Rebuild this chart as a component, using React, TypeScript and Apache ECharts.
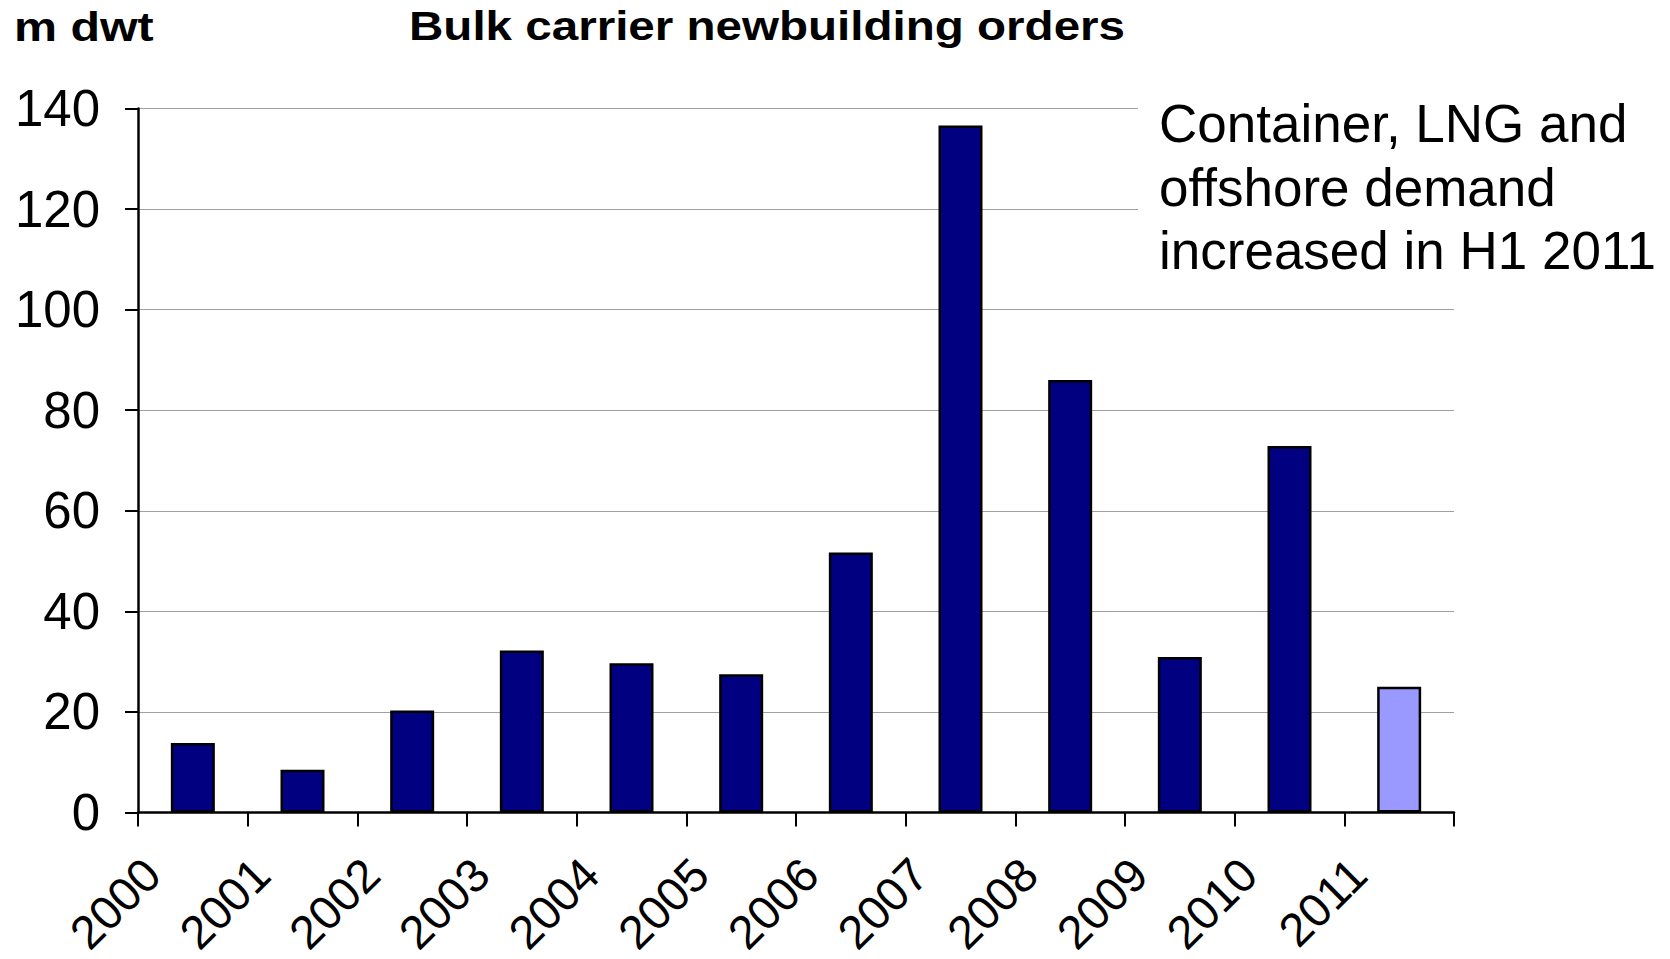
import React, { useEffect, useRef } from "react";
import * as echarts from "echarts";

const years = ["2000", "2001", "2002", "2003", "2004", "2005", "2006", "2007", "2008", "2009", "2010", "2011"];
const orders = [13.8, 8.5, 20.3, 32.2, 29.7, 27.5, 51.7, 136.6, 86.0, 30.9, 72.9, 25.0];
const highlightYear = "2011";
const yTicks = { min: 0, max: 140, interval: 20 };
const titleText = "Bulk carrier newbuilding orders";
const unitText = "m dwt";
const noteLines = ["Container, LNG and", "offshore demand", "increased in H1 2011"];

const NAVY = "#000080";
const LIGHT = "#9999FF";
const FONT = "'Liberation Sans', Arial, sans-serif";

export default function App() {
  const ref = useRef<HTMLDivElement>(null);

  useEffect(() => {
    document.body.style.margin = "0";
    if (!ref.current) return;
    const chart = echarts.init(ref.current, null, { renderer: "svg" });

    const labelAxisData = [...years, ""];

    chart.setOption({
      animation: false,
      backgroundColor: "#ffffff",
      textStyle: { fontFamily: FONT },
      grid: [
        { left: 138, right: 216, top: 108.5, bottom: 146.5, containLabel: false },
        { left: 152, right: 202, top: 108.5, bottom: 146.5, containLabel: false },
      ],
      xAxis: [
        {
          type: "category",
          gridIndex: 0,
          data: years,
          boundaryGap: true,
          axisLine: { show: true, lineStyle: { color: "#000", width: 2.5 } },
          axisTick: { show: true, length: 14, lineStyle: { color: "#000", width: 2 } },
          axisLabel: { show: false },
          splitLine: { show: false },
        },
        {
          type: "category",
          gridIndex: 1,
          data: labelAxisData,
          boundaryGap: false,
          axisLine: { show: false },
          axisTick: { show: false },
          splitLine: { show: false },
          axisLabel: {
            show: true,
            interval: 0,
            rotate: 45,
            margin: 56,
            fontSize: 47,
            color: "#000",
            fontFamily: FONT,
          },
        },
      ],
      yAxis: [
        {
          type: "value",
          gridIndex: 0,
          min: yTicks.min,
          max: yTicks.max,
          interval: yTicks.interval,
          axisLine: { show: true, lineStyle: { color: "#000", width: 2.5 } },
          axisTick: { show: true, length: 13, lineStyle: { color: "#000", width: 2 } },
          axisLabel: { fontSize: 51, color: "#000", margin: 38, fontFamily: FONT },
          splitLine: { show: true, lineStyle: { color: "#a0a0a0", width: 1 } },
        },
        {
          type: "value",
          gridIndex: 1,
          min: yTicks.min,
          max: yTicks.max,
          interval: yTicks.interval,
          show: false,
          splitLine: { show: false },
        },
      ],
      series: [
        {
          type: "bar",
          xAxisIndex: 0,
          yAxisIndex: 0,
          barWidth: 44,
          data: orders.map((v, i) => ({
            value: v,
            itemStyle: {
              color: years[i] === highlightYear ? LIGHT : NAVY,
              borderColor: "#000",
              borderWidth: 2.5,
            },
          })),
        },
      ],
      graphic: [
        {
          type: "rect",
          shape: { x: 1138, y: 95, width: 532, height: 195 },
          style: { fill: "#ffffff" },
          z: 10,
        },
        {
          type: "text",
          x: 1159,
          y: 92,
          z: 11,
          style: {
            text: noteLines.join("\n"),
            fontSize: 53,
            lineHeight: 63.5,
            fontFamily: FONT,
            fill: "#000",
            verticalAlign: "top",
            align: "left",
          },
        },
        {
          type: "text",
          x: 14,
          y: 27,
          scaleX: 1.18,
          z: 11,
          style: {
            text: unitText,
            fontSize: 41,
            fontWeight: "bold",
            fontFamily: FONT,
            fill: "#000",
            verticalAlign: "middle",
            align: "left",
          },
        },
        {
          type: "text",
          x: 409,
          y: 26,
          scaleX: 1.16,
          z: 11,
          style: {
            text: titleText,
            fontSize: 41,
            fontWeight: "bold",
            fontFamily: FONT,
            fill: "#000",
            verticalAlign: "middle",
            align: "left",
          },
        },
      ],
    });

    return () => chart.dispose();
  }, []);

  return <div ref={ref} style={{ width: 1670, height: 959 }} />;
}
